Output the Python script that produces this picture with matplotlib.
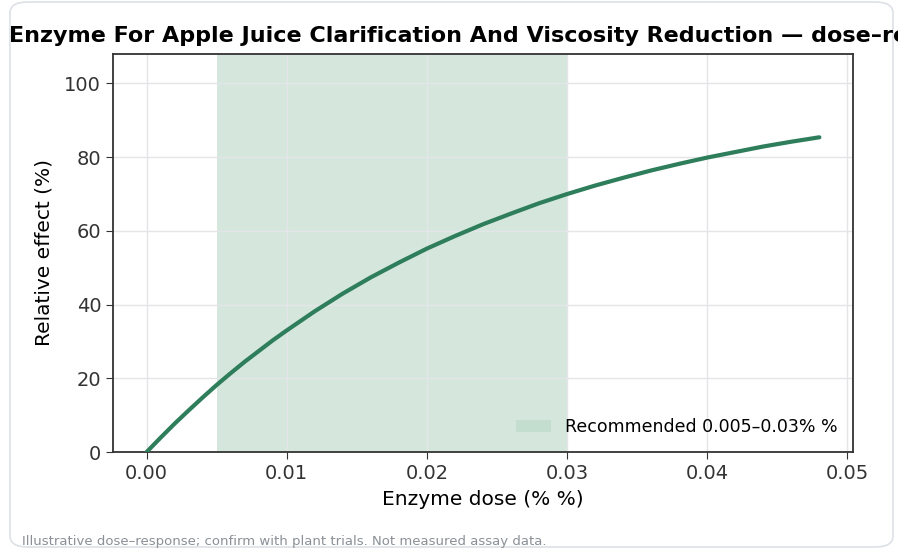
import matplotlib.pyplot as plt
from matplotlib.patches import FancyBboxPatch, Patch

# dose (% w/v) and relative effect (%)
dose = [0.000, 0.001, 0.002, 0.003, 0.004, 0.005, 0.006, 0.007, 0.008,
        0.009, 0.010, 0.012, 0.014, 0.016, 0.018, 0.020, 0.022, 0.024,
        0.026, 0.028, 0.030, 0.032, 0.034, 0.036, 0.038, 0.040, 0.042,
        0.044, 0.046, 0.048]
effect = [0.0, 3.9, 7.7, 11.3, 14.8, 18.2, 21.4, 24.5, 27.4,
          30.3, 33.0, 38.2, 43.0, 47.4, 51.4, 55.2, 58.6, 61.8,
          64.7, 67.5, 70.0, 72.3, 74.4, 76.4, 78.2, 79.9, 81.4,
          82.9, 84.2, 85.4]
recommended = (0.005, 0.03)

line_color = "#2e7d5b"
band_color = "#2e8b57"

fig = plt.figure(figsize=(8.98, 5.5), dpi=100)
ax = fig.add_axes([113 / 898, 1 - 452 / 550, 740 / 898, 398 / 550])

# rounded card border
card = FancyBboxPatch((10 / 898, 3 / 550), 883 / 898, 545 / 550,
                      boxstyle="round,pad=0,rounding_size=0.02",
                      transform=fig.transFigure, facecolor="none",
                      edgecolor="#dde1e6", linewidth=1.2, zorder=-1)
fig.patches.append(card)

ax.axvspan(recommended[0], recommended[1], color=band_color, alpha=0.2,
           linewidth=0, zorder=0)
ax.plot(dose, effect, color=line_color, linewidth=3, zorder=3,
        solid_capstyle="round", solid_joinstyle="round")

ax.set_xlim(-0.0024, 0.0504)
ax.set_ylim(0, 108)
ax.set_xticks([0.0, 0.01, 0.02, 0.03, 0.04, 0.05])
ax.set_xticklabels(["0.00", "0.01", "0.02", "0.03", "0.04", "0.05"])
ax.set_yticks([0, 20, 40, 60, 80, 100])
ax.grid(True, color="#e3e5e8", linewidth=1, zorder=1)
ax.set_axisbelow(True)
ax.tick_params(labelsize=14, colors="#333333", length=5)
for s in ax.spines.values():
    s.set_color("#333333")
    s.set_linewidth(1.3)

ax.set_xlabel("Enzyme dose (% %)", fontsize=14.5, labelpad=5)
ax.set_ylabel("Relative effect (%)", fontsize=14.5, labelpad=8)
ax.set_title("Enzyme For Apple Juice Clarification And Viscosity Reduction \u2014 dose\u2013response",
             fontsize=16, fontweight="bold", pad=9, x=0.5275)

handle = Patch(facecolor=band_color, alpha=0.1, label="Recommended 0.005\u20130.03% %")
ax.legend(handles=[handle], loc="lower right", frameon=False, fontsize=12.5)

fig.text(22 / 898, 1 - 541 / 550,
         "Illustrative dose\u2013response; confirm with plant trials. Not measured assay data.",
         fontsize=9.5, color="#8a9096", va="center")

fig.savefig("out.png", dpi=100)
